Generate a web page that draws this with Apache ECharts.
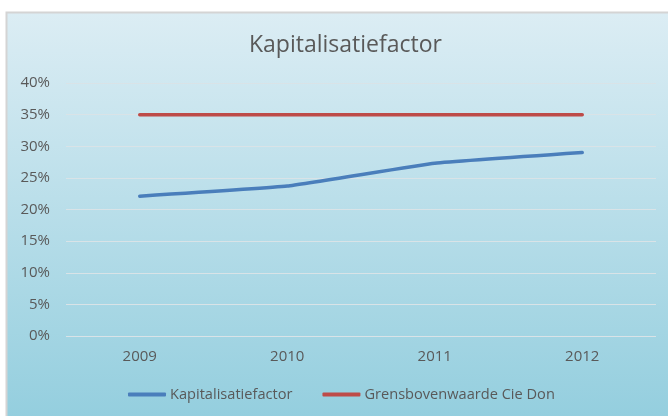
<!DOCTYPE html>
<html>
<head>
<meta charset="utf-8">
<script src="https://cdn.jsdelivr.net/npm/echarts@6/dist/echarts.min.js"></script>
<style>
html, body { margin: 0; padding: 0; background: #fff; }
#chart { width: 668px; height: 416px; }
</style>
</head>
<body>
<div id="chart"></div>
<script>
var years = ['2009', '2010', '2011', '2012'];
var kapitalisatie = [0.221, 0.237, 0.273, 0.290];
var grens = [0.35, 0.35, 0.35, 0.35];

var myChart = echarts.init(document.getElementById('chart'));
var textColor = '#595959';
var fontFam = '"Open Sans", "DejaVu Sans", sans-serif';

var option = {
    backgroundColor: '#ffffff',
    animation: false,
    graphic: [{
        type: 'rect',
        z: -10,
        shape: { x: 6.5, y: 12.5, width: 668, height: 410 },
        style: {
            stroke: '#d4d4d4',
            lineWidth: 2,
            fill: new echarts.graphic.LinearGradient(0, 0, 0, 1, [
                { offset: 0, color: '#dcedf4' },
                { offset: 1, color: '#93cede' }
            ])
        }
    }],
    title: {
        text: 'Kapitalisatiefactor',
        left: 244,
        top: 29,
        textStyle: { color: textColor, fontSize: 23, fontWeight: 'normal', fontFamily: fontFam }
    },
    grid: { left: 66, right: 12, top: 83, bottom: 80 },
    xAxis: {
        type: 'category',
        data: years,
        boundaryGap: true,
        axisLine: { show: false },
        axisTick: { show: false },
        axisLabel: { color: textColor, fontSize: 15, margin: 13, fontFamily: fontFam }
    },
    yAxis: {
        type: 'value',
        min: 0,
        max: 0.4,
        interval: 0.05,
        axisLine: { show: false },
        axisTick: { show: false },
        splitLine: { lineStyle: { color: '#d9e3e7', width: 1 } },
        axisLabel: {
            color: textColor, fontSize: 15, margin: 16, fontFamily: fontFam,
            formatter: function (v) { return Math.round(v * 100) + '%'; }
        }
    },
    legend: {
        bottom: 9,
        left: 123,
        itemWidth: 38,
        itemHeight: 4,
        itemGap: 30,
        icon: 'roundRect',
        textStyle: { color: textColor, fontSize: 14.6, fontFamily: fontFam, padding: [0, 0, 0, -1] },
        data: ['Kapitalisatiefactor', 'Grensbovenwaarde Cie Don']
    },
    series: [
        {
            name: 'Kapitalisatiefactor',
            type: 'line',
            data: kapitalisatie,
            smooth: 0.1,
            showSymbol: false,
            symbol: 'none',
            lineStyle: { color: '#4a7ebb', width: 3.5, cap: 'round' },
            itemStyle: { color: '#4a7ebb' }
        },
        {
            name: 'Grensbovenwaarde Cie Don',
            type: 'line',
            data: grens,
            showSymbol: false,
            symbol: 'none',
            lineStyle: { color: '#be4b48', width: 3.5, cap: 'round' },
            itemStyle: { color: '#be4b48' }
        }
    ]
};
myChart.setOption(option);
</script>
</body>
</html>
